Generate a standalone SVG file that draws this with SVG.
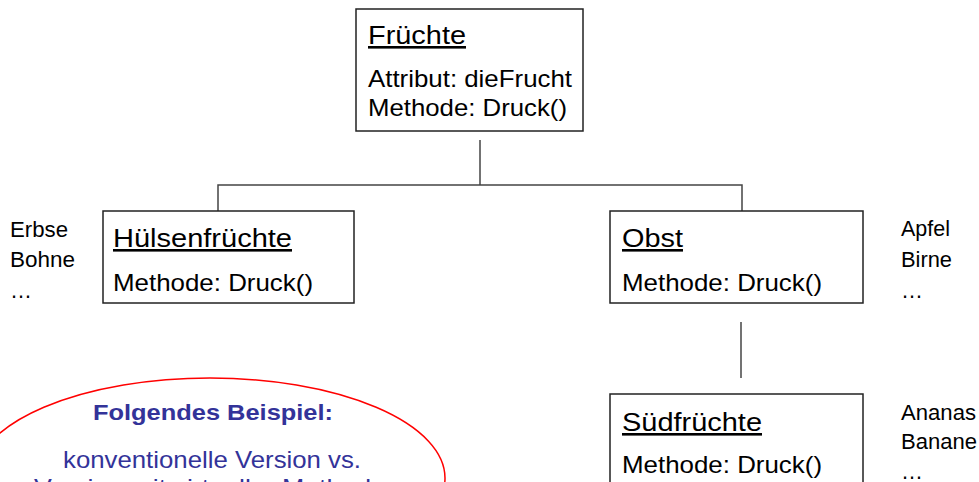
<svg xmlns="http://www.w3.org/2000/svg" width="979" height="482" viewBox="0 0 979 482">
<style>
.box{fill:#fff;stroke:#222;stroke-width:1.5}
.con{fill:none;stroke:#444;stroke-width:1.5}
.t{font-family:"Liberation Sans",Arial,sans-serif;fill:#000}
.title{font-size:26px;text-decoration:underline}
.body{font-size:24px}
.side{font-size:22px}
.ell{font-family:"Liberation Sans",Arial,sans-serif;fill:#333399;text-anchor:middle}
</style>
<rect width="979" height="482" fill="#fff"/>
<g id="connectors">
<line class="con" x1="480" y1="140" x2="480" y2="185"/>
<polyline class="con" points="218,211 218,185 742,185 742,211"/>
<line class="con" x1="741" y1="322" x2="741" y2="378"/>
</g>
<g id="fruechte">
<rect class="box" x="356" y="9" width="227" height="122"/>
<text class="t title" x="368" y="44" textLength="98" lengthAdjust="spacingAndGlyphs">Früchte</text>
<text class="t body" x="368" y="87" textLength="204" lengthAdjust="spacingAndGlyphs">Attribut: dieFrucht</text>
<text class="t body" x="368" y="116" textLength="199" lengthAdjust="spacingAndGlyphs">Methode: Druck()</text>
</g>
<g id="huelsenfruechte">
<rect class="box" x="103" y="211" width="251" height="92"/>
<text class="t title" x="113" y="247" textLength="179" lengthAdjust="spacingAndGlyphs">Hülsenfrüchte</text>
<text class="t body" x="113" y="291" textLength="200" lengthAdjust="spacingAndGlyphs">Methode: Druck()</text>
</g>
<g id="obst">
<rect class="box" x="610" y="211" width="253" height="92"/>
<text class="t title" x="622" y="247" textLength="61" lengthAdjust="spacingAndGlyphs">Obst</text>
<text class="t body" x="622" y="291" textLength="200" lengthAdjust="spacingAndGlyphs">Methode: Druck()</text>
</g>
<g id="suedfruechte">
<rect class="box" x="610" y="394" width="253" height="110"/>
<text class="t title" x="622" y="431" textLength="140" lengthAdjust="spacingAndGlyphs">Südfrüchte</text>
<text class="t body" x="622" y="473" textLength="200" lengthAdjust="spacingAndGlyphs">Methode: Druck()</text>
</g>
<g id="labels-huelsen">
<text class="t side" x="10" y="237" textLength="58" lengthAdjust="spacingAndGlyphs">Erbse</text>
<text class="t side" x="10" y="267" textLength="65" lengthAdjust="spacingAndGlyphs">Bohne</text>
<text class="t side" x="10" y="298">…</text>
</g>
<g id="labels-obst">
<text class="t side" x="901" y="236" textLength="49" lengthAdjust="spacingAndGlyphs">Apfel</text>
<text class="t side" x="901" y="267" textLength="51" lengthAdjust="spacingAndGlyphs">Birne</text>
<text class="t side" x="901" y="298">…</text>
</g>
<g id="labels-sued">
<text class="t side" x="901" y="420" textLength="75" lengthAdjust="spacingAndGlyphs">Ananas</text>
<text class="t side" x="901" y="449" textLength="76" lengthAdjust="spacingAndGlyphs">Banane</text>
<text class="t side" x="901" y="479">…</text>
</g>
<g id="hinweis">
<ellipse cx="210" cy="478" rx="235" ry="100" fill="none" stroke="#ff0000" stroke-width="1.5"/>
<text class="ell" x="213" y="420" font-size="22" font-weight="bold" textLength="240" lengthAdjust="spacingAndGlyphs">Folgendes Beispiel:</text>
<text class="ell" x="212" y="468" font-size="24" textLength="298" lengthAdjust="spacingAndGlyphs">konventionelle Version vs.</text>
<text class="ell" x="210" y="496" font-size="24" textLength="352" lengthAdjust="spacingAndGlyphs">Version mit virtueller Methode</text>
</g>
</svg>
